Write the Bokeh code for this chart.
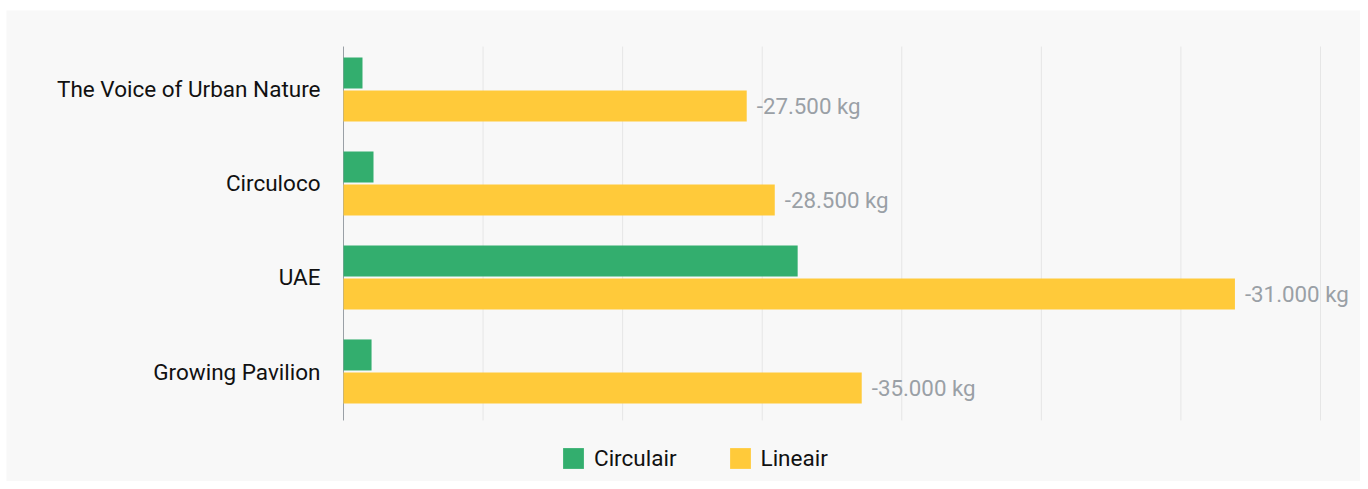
from bokeh.plotting import figure
from bokeh.models import Range1d, ColumnDataSource, Legend, LegendItem
from bokeh.core.properties import value
from bokeh.embed import file_html
from bokeh.resources import INLINE

categories = ["The Voice of Urban Nature", "Circuloco", "UAE", "Growing Pavilion"]
circulair = [0.136, 0.215, 3.254, 0.201]
lineair = [2.889, 3.090, 6.387, 3.713]
labels = ["-27.500 kg", "-28.500 kg", "-31.000 kg", "-35.000 kg"]
grid_ticks = [1, 2, 3, 4, 5, 6, 7]

BG = "#f8f8f8"
GREEN = "#33ae6e"
YELLOW = "#ffca3a"
FONT = value("Roboto")

# plotting region extent (in category units) for grid/axis lines
y_top, y_bot = -0.457, 3.521

pos = list(range(len(categories)))
src = ColumnDataSource(dict(
    pos=pos,
    zero=[0] * len(pos),
    gpos=[p - 0.176 for p in pos],
    ypos=[p + 0.176 for p in pos],
    circ=circulair,
    lin=lineair,
    lab=labels,
    cat=categories,
))
gsrc = ColumnDataSource(dict(x=grid_ticks, y0=[y_top] * len(grid_ticks), y1=[y_bot] * len(grid_ticks)))

p = figure(width=1360, height=481, output_backend="svg", toolbar_location=None,
           x_range=Range1d(-2.4146, 7.2867), y_range=Range1d(4.1702, -0.8404),
           min_border_left=6, min_border_right=0, min_border_top=10, min_border_bottom=0)
p.background_fill_color = BG
p.border_fill_color = "white"
p.outline_line_color = None
p.axis.visible = False
p.grid.visible = False

# grid lines and axis line
p.segment(x0="x", x1="x", y0="y0", y1="y1", source=gsrc, line_color="#e6e6e6", line_width=1)
p.segment(x0=0, x1=0, y0=y_top, y1=y_bot, line_color="#9aa0a6", line_width=1)

g = p.hbar(y="gpos", right="circ", left=0, height=0.33, source=src, color=GREEN, line_color=None)
yb = p.hbar(y="ypos", right="lin", left=0, height=0.33, source=src, color=YELLOW, line_color=None)

p.text(x="lin", y="ypos", text="lab", source=src, x_offset=10,
       text_align="left", text_baseline="middle", text_color="#9aa0a6",
       text_font=FONT, text_font_size="22.3px")

p.text(x="zero", y="pos", text="cat", source=src, x_offset=-23,
       text_align="right", text_baseline="middle", text_color="#111111",
       text_font=FONT, text_font_size="22.5px")

legend = Legend(items=[LegendItem(label="Circulair", renderers=[g]),
                       LegendItem(label="Lineair", renderers=[yb])],
                orientation="horizontal", location=(554, 10))
legend.background_fill_alpha = 0
legend.border_line_color = None
legend.glyph_width = 26
legend.glyph_height = 26
legend.label_standoff = 8
legend.spacing = 50
legend.padding = 0
legend.margin = 0
legend.label_text_font = "Roboto"
legend.label_text_font_size = "22.5px"
legend.label_text_color = "#111111"
p.add_layout(legend, "center")

open("out.html", "w").write(file_html(p, INLINE))
